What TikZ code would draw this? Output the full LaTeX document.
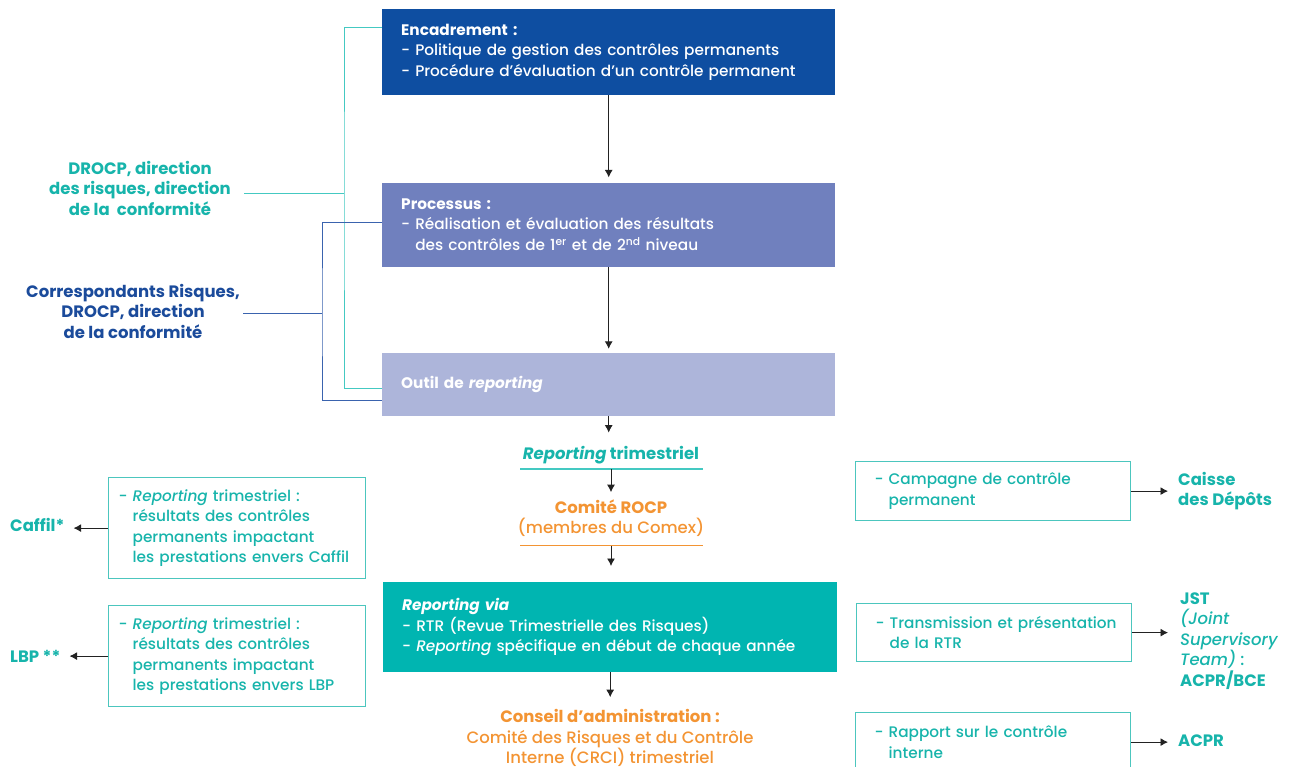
\documentclass[tikz,border=0pt]{standalone}
\usepackage{fontspec}
\setmainfont{Poppins}[UprightFont={* Medium}, ItalicFont={* Medium Italic}, BoldFont={* Bold}, BoldItalicFont={* Bold Italic}]
\usetikzlibrary{positioning,arrows.meta}

\definecolor{encblue}{RGB}{14,78,161}
\definecolor{procblue}{RGB}{112,128,190}
\definecolor{outilblue}{RGB}{173,181,218}
\definecolor{repteal}{RGB}{0,181,177}
\definecolor{tealtx}{RGB}{23,180,171}
\definecolor{orangetx}{RGB}{243,148,51}
\definecolor{bluetx}{RGB}{27,75,155}
\definecolor{tealln}{RGB}{68,201,194}
\definecolor{blueln}{RGB}{58,99,174}
\definecolor{boxln}{RGB}{76,198,190}
\definecolor{arrowc}{RGB}{34,34,34}

\newcommand{\rpad}{\hspace*{9pt}}
\newcommand{\dsh}{\phantom{- }}
\newcommand{\boxfont}{\fontsize{15.3}{20.5}\selectfont}
\newcommand{\labfont}{\fontsize{16.5}{20.5}\selectfont}

\begin{document}
\begin{tikzpicture}[x=1pt,y=-1pt,
	font=\boxfont,
	main/.style={rectangle, anchor=north west, text width=415pt, inner xsep=19pt, inner ysep=0pt, align=left, text=white},
	side/.style={rectangle, anchor=north west, draw=boxln, line width=1.2pt, text=tealtx, align=left, inner xsep=10pt, inner ysep=0pt},
	lab/.style={inner sep=0pt, font=\labfont\bfseries},
	arr/.style={draw=arrowc, line width=0.9pt, -{Latex[length=7.5pt,width=8pt]}}
	]
	\useasboundingbox (0,0) rectangle (1290,767);

	% colonne centrale
	\node (enc) [main, fill=encblue, minimum height=86pt] at (382,9) {\textbf{Encadrement :}\\- Politique de gestion des contrôles permanents\\- Procédure d’évaluation d’un contrôle permanent};
	\node (proc) [main, fill=procblue, minimum height=84pt, below=87pt of enc] {\textbf{Processus :}\\- Réalisation et évaluation des résultats\\\dsh des contrôles de 1\textsuperscript{er} et de 2\textsuperscript{nd} niveau};
	\node (outil) [main, fill=outilblue, minimum height=63pt, below=86pt of proc] {\textbf{Outil de \textit{reporting}}};

	\node (trim) [lab, text=tealtx, anchor=base] at (611,459) {\textit{Reporting} trimestriel};
	\coordinate (tl) at ([yshift=-10pt]trim.base);
	\draw [tealln, line width=1.2pt] ([xshift=-91pt]tl) -- ([xshift=92pt]tl);

	\node (comite) [inner sep=0pt, font=\labfont, text=orangetx, align=center] at (611,518) {\textbf{Comité ROCP}\\(membres du Comex)};
	\coordinate (cl) at ([yshift=-9pt]comite.south);
	\draw [orangetx, line width=1.2pt] ([xshift=-91pt]cl) -- ([xshift=92pt]cl);

	\node (rep) [main, fill=repteal, text width=416pt, minimum height=90pt] at (383,582) {\textbf{\textit{Reporting via}}\\- RTR (Revue Trimestrielle des Risques)\\- \textit{Reporting} spécifique en début de chaque année};
	\node (conseil) [inner sep=0pt, font=\labfont, text=orangetx, align=center] at (610,738) {\textbf{Conseil d’administration :}\\Comité des Risques et du Contrôle\\Interne (CRCI) trimestriel};

	\draw [arr, shorten >=5pt] (enc.south) -- (proc.north);
	\draw [arr, shorten >=4pt] (proc.south) -- (outil.north);
	\draw [arr, shorten >=13pt] (outil.south) -- (outil.south |- trim.north);
	\draw [arr, shorten >=7pt] (tl) -- (tl |- comite.north);
	\draw [arr, shorten >=16pt] (cl) -- (cl |- rep.north);
	\draw [arr, shorten >=12pt] (rep.south) -- (rep.south |- conseil.north);

	% acteurs a gauche
	\node (drocp) [lab, text=tealtx, align=center] at (140,188) {DROCP, direction\\des risques, direction\\de la\ \ conformité};
	\node (corr) [lab, text=bluetx, align=center] at (133,311) {Correspondants Risques,\\DROCP, direction\\de la conformité};

	\coordinate (tbus) at (344,194);
	\coordinate (bbus) at (322,313);
	\draw [tealln, line width=1pt, shorten <=13pt] (drocp.east |- tbus) -- (tbus);
	\draw [tealln, line width=1pt] ([yshift=-19pt]enc.north west) -| (tbus) |- ([yshift=-36pt]outil.north west);
	\draw [blueln, line width=1pt, shorten <=3pt] (corr.east |- bbus) -- (bbus);
	\draw [blueln, line width=1pt] ([yshift=-40pt]proc.north west) -| (bbus) |- ([yshift=-48pt]outil.north west);

	% reporting filiales
	\node (cbox) [side, text width=237pt, minimum height=101pt] at (108,477) {- \textit{Reporting} trimestriel :\\\dsh résultats des contrôles\\\dsh permanents impactant\\\dsh les prestations envers Caffil};
	\node (lbox) [side, text width=237pt, minimum height=101pt] at (108,605) {- \textit{Reporting} trimestriel :\\\dsh résultats des contrôles\\\dsh permanents impactant\\\dsh les prestations envers LBP};
	\node (caf) [lab, text=tealtx, anchor=west] at (10,525) {Caffil*};
	\node (lbp) [lab, text=tealtx, anchor=west] at (10,656) {LBP **};
	\draw [arr, shorten >=9pt] (cbox.west) -- (cbox.west -| caf.east);
	\draw [arr, shorten >=9pt] (lbox.west) -- (lbox.west -| lbp.east);

	% destinataires externes
	\node (camp) [side, text width=255pt, minimum height=59pt] at (855,461) {\rpad- Campagne de contrôle\\\rpad\dsh permanent};
	\node (trans) [side, text width=255pt, minimum height=58pt] at (856,603) {\rpad- Transmission et présentation\\\rpad\dsh de la RTR};
	\node (rap) [side, text width=255pt, minimum height=59pt] at (855,712) {\rpad- Rapport sur le contrôle\\\rpad\dsh interne};
	\node (cdc) [lab, text=tealtx, anchor=west, align=left] at (1178,491) {Caisse\\des Dépôts};
	\node (jst) [inner sep=0pt, font=\labfont, text=tealtx, anchor=west, align=left] at (1180,641) {\textbf{JST}\\\textit{(Joint}\\\textit{Supervisory}\\\textit{Team)} :\\\textbf{ACPR/BCE}};
	\node (acpr) [lab, text=tealtx, anchor=west] at (1178,741) {ACPR};
	\draw [arr, shorten >=10pt] (camp.east) -- (camp.east -| cdc.west);
	\draw [arr, shorten >=12pt] (trans.east) -- (trans.east -| jst.west);
	\draw [arr, shorten >=10pt] (rap.east) -- (rap.east -| acpr.west);

\end{tikzpicture}
\end{document}
